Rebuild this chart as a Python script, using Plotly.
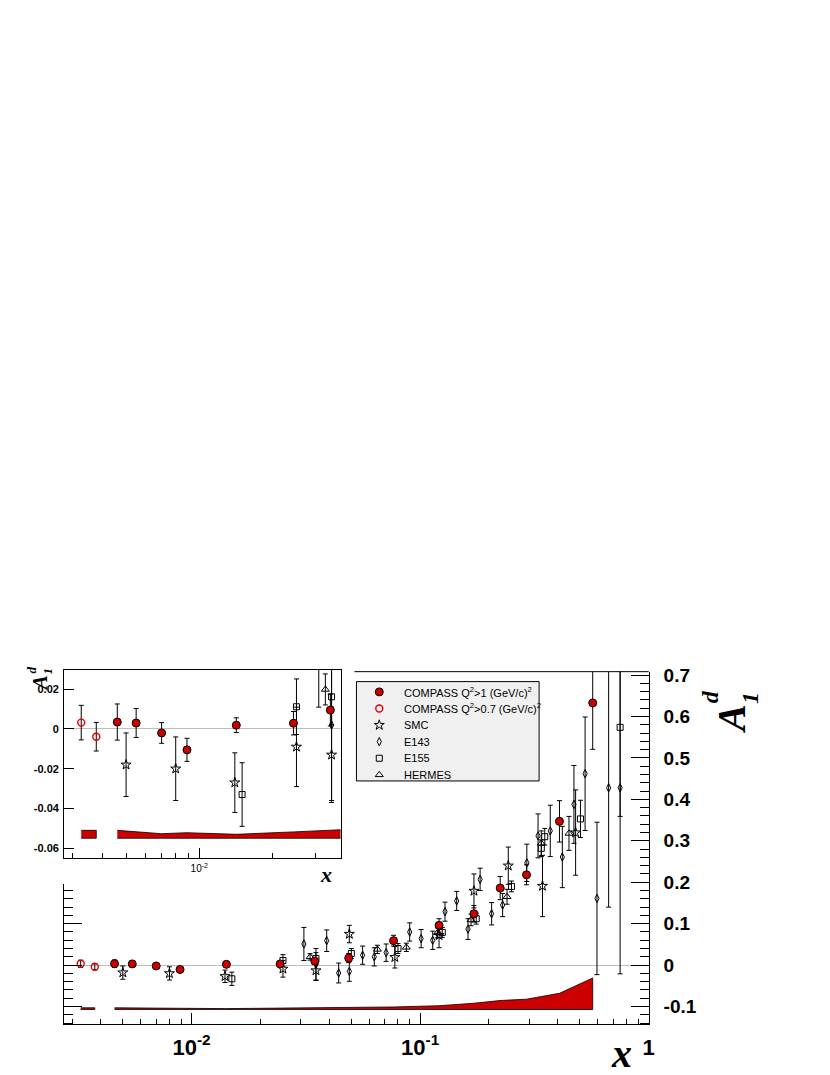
import numpy as np
import plotly.graph_objects as go

# ---- data ----
# COMPASS Q^2 > 1 (GeV/c)^2
compass_x = [0.0046, 0.0055, 0.0070, 0.0089, 0.0142, 0.0244, 0.0346, 0.0487, 0.0765, 0.121, 0.172, 0.224, 0.292, 0.407, 0.569]
compass_y = [0.0035, 0.0030, -0.0020, -0.0105, 0.0019, 0.0029, 0.0095, 0.017, 0.059, 0.096, 0.124, 0.186, 0.218, 0.347, 0.633]
compass_err = [0.0091, 0.0073, 0.0052, 0.0058, 0.0037, 0.0059, 0.0080, 0.011, 0.013, 0.016, 0.020, 0.028, 0.024, 0.050, 0.112]

# COMPASS Q^2 > 0.7 (GeV/c)^2
lowq_x = [0.00327, 0.00377]
lowq_y = [0.0032, -0.0039]
lowq_err = [0.0087, 0.0072]

smc_x = [0.0050, 0.0080, 0.0140, 0.0251, 0.035, 0.049, 0.0775, 0.121, 0.172, 0.243, 0.343, 0.479]
smc_y = [-0.018, -0.020, -0.027, -0.009, -0.013, 0.075, 0.019, 0.072, 0.179, 0.240, 0.191, 0.320]
smc_err = [0.016, 0.016, 0.015, 0.020, 0.024, 0.021, 0.026, 0.030, 0.041, 0.045, 0.074, 0.103]

e143_x = [0.031, 0.035, 0.039, 0.044, 0.049, 0.056, 0.063, 0.071, 0.090, 0.101, 0.1135, 0.1285, 0.1445,
          0.162, 0.183, 0.2055, 0.2296, 0.293, 0.328, 0.371, 0.419, 0.471, 0.527, 0.594, 0.668, 0.750]
e143_y = [0.051, 0.002, 0.059, -0.019, -0.015, 0.024, 0.020, 0.030, 0.080, 0.064, 0.060, 0.129, 0.155,
          0.087, 0.207, 0.124, 0.145, 0.247, 0.312, 0.324, 0.261, 0.388, 0.462, 0.161, 0.428, 0.428]
e143_err = [0.040, 0.038, 0.026, 0.024, 0.024, 0.022, 0.022, 0.021, 0.022, 0.022, 0.022, 0.023, 0.023,
            0.025, 0.027, 0.027, 0.028, 0.045, 0.053, 0.062, 0.074, 0.094, 0.137, 0.184, 0.288, 0.449]

e155_x = [0.015, 0.0251, 0.035, 0.050, 0.080, 0.125, 0.176, 0.251, 0.339, 0.351, 0.503, 0.750]
e155_y = [-0.033, 0.0112, 0.0162, 0.028, 0.040, 0.079, 0.112, 0.190, 0.282, 0.310, 0.353, 0.574]
e155_err = [0.016, 0.014, 0.014, 0.012, 0.012, 0.012, 0.013, 0.013, 0.020, 0.020, 0.045, 0.215]

hermes_x = [0.033, 0.065, 0.087, 0.119, 0.167, 0.240, 0.339, 0.448]
hermes_y = [0.0199, 0.038, 0.043, 0.078, 0.109, 0.165, 0.294, 0.318]
hermes_err = [0.0078, 0.010, 0.010, 0.012, 0.014, 0.018, 0.030, 0.041]

# systematic error band (COMPASS)
syst_low = [0.004, 0.004]
syst = [0.0040, 0.0032, 0.0023, 0.0028, 0.0020, 0.0032, 0.0040, 0.0042, 0.0060, 0.0090,
        0.0150, 0.0216, 0.0248, 0.0390, 0.0760]
band_base_main = -0.107
band_base_inset = -0.055

legend_names = [
    "COMPASS Q<sup>2</sup>&gt;1 (GeV/c)<sup>2</sup>",
    "COMPASS Q<sup>2</sup>&gt;0.7 (GeV/c)<sup>2</sup>",
    "SMC", "E143", "E155", "HERMES",
]

main_yticks = [-0.1, 0, 0.1, 0.2, 0.3, 0.4, 0.5, 0.6, 0.7]
main_yticktext = ["-0.1", "0", "0.1", "0.2", "0.3", "0.4", "0.5", "0.6", "0.7"]
inset_yticks = [-0.06, -0.04, -0.02, 0, 0.02]
inset_yticktext = ["-0.06", "-0.04", "-0.02", "0", "0.02"]

# ---- layout helpers (window pixel -> paper); the page body has an 8px margin ----
OFF = 8
W, H = 830 - OFF, 1075 - OFF
def px(v):
    return (v - OFF) / W
def py(v):
    return 1 - (v - OFF) / H

SANS = "Liberation Sans"
SERIF = "Liberation Serif"
RED = "#cc0000"
ERRC = "black"

mk_compass = dict(symbol="circle", size=8, color=RED, line=dict(color="black", width=1))
mk_lowq = dict(symbol="circle-open", size=7, color="#e00000", line=dict(width=1.4))
mk_smc = dict(symbol="star-open", size=7.5, color="black", line=dict(width=1))
mk_e143 = dict(symbol="diamond-tall-open", size=6, color="black", line=dict(width=1))
mk_e155 = dict(symbol="square-open", size=6, color="black", line=dict(width=1))
mk_hermes = dict(symbol="triangle-up-open", size=7, color="black", line=dict(width=1))
legend_markers = [mk_compass, mk_lowq, mk_smc, mk_e143, mk_e155, mk_hermes]

fig = go.Figure()

def add_band(xs, hs, base, xa, ya):
    bx = list(xs) + list(xs)[::-1]
    by = [base + h for h in hs] + [base] * len(xs)
    fig.add_trace(go.Scatter(
        x=bx, y=by, mode="lines", fill="toself", fillcolor=RED,
        line=dict(color="black", width=0.8),
        xaxis=xa, yaxis=ya, showlegend=False, hoverinfo="skip"
    ))

def add_series(xs, ys, errs, name, marker):
    for xa, ya in (("x", "y"), ("x2", "y2")):
        fig.add_trace(go.Scatter(
            x=xs, y=ys, mode="markers", name=name, marker=marker,
            error_y=dict(type="data", array=errs, color=ERRC, thickness=1, width=2.5),
            xaxis=xa, yaxis=ya, showlegend=False
        ))

# bands
add_band(lowq_x, syst_low, band_base_main, "x", "y")
add_band(compass_x, syst, band_base_main, "x", "y")
add_band(lowq_x, syst_low, band_base_inset, "x2", "y2")
add_band(compass_x, syst, band_base_inset, "x2", "y2")

add_series(e143_x, e143_y, e143_err, "E143", mk_e143)
add_series(e155_x, e155_y, e155_err, "E155", mk_e155)
add_series(hermes_x, hermes_y, hermes_err, "HERMES", mk_hermes)
add_series(smc_x, smc_y, smc_err, "SMC", mk_smc)
add_series(lowq_x, lowq_y, lowq_err, "COMPASS Q2>0.7", mk_lowq)
add_series(compass_x, compass_y, compass_err, "COMPASS Q2>1", mk_compass)

# empty traces carrying the tick-only frame axes
fig.add_trace(go.Scatter(x=[None], y=[None], xaxis="x", yaxis="y3", showlegend=False, hoverinfo="skip"))
fig.add_trace(go.Scatter(x=[None], y=[None], xaxis="x", yaxis="y4", showlegend=False, hoverinfo="skip"))
fig.add_trace(go.Scatter(x=[None], y=[None], xaxis="x3", yaxis="y3", showlegend=False, hoverinfo="skip"))

# legend keys, one row per entry
for i, mk in enumerate(legend_markers):
    fig.add_trace(go.Scatter(x=[0.5], y=[i], mode="markers", marker=mk,
                             xaxis="x4", yaxis="y5", showlegend=False, hoverinfo="skip"))

# main frame geometry (window pixels)
M_L, M_R, M_T, M_B = 64.5, 653.5, 669, 1024
Y0_PX, Y_SCALE = 964.4, 417.0
main_xrange = [-2.558, 0.0005]
main_yrange = [(Y0_PX - M_B) / Y_SCALE, (Y0_PX - M_T) / Y_SCALE]
LEFT_TOP = 883
I_L, I_R, I_T, I_B = 64.5, 343, 667.3, 856.7
# legend box
L_L, L_R, L_T, L_B = 359, 543, 679, 779
ROW = 16.7

x_minor_main = [k * 10.0 ** e for e in (-3, -2, -1) for k in range(2, 10)]
x_minor_main = [v for v in x_minor_main if v > 0.0028]
x_minor_inset = [k * 1e-3 for k in range(3, 10)] + [0.02, 0.03]
y_minor_main = list(np.round(np.arange(-0.14, 0.71, 0.02), 2))

TICKC = "black"
TW = 1.3

fig.update_layout(
    width=W, height=H,
    margin=dict(l=0, r=0, t=0, b=0),
    paper_bgcolor="white", plot_bgcolor="rgba(0,0,0,0)",
    font=dict(family=SANS, color="black"),
    showlegend=False,
    # main axes carrying the labels
    xaxis=dict(
        type="log", range=main_xrange, domain=[px(M_L), px(M_R)], anchor="y",
        showline=True, linecolor="black", linewidth=1, showgrid=False, zeroline=False,
        ticks="", tickmode="array", tickvals=[0.01, 0.1, 1],
        ticktext=["10<sup>-2</sup>", "10<sup>-1</sup>", "1"],
        tickfont=dict(family=SANS, size=22, color="black", weight="bold"),
        ticklabelstandoff=3,
    ),
    yaxis=dict(
        range=main_yrange, domain=[py(M_B), py(M_T)], anchor="x", side="right",
        showline=True, linecolor="black", linewidth=1, showgrid=False,
        zeroline=True, zerolinecolor="#bdbdbd", zerolinewidth=1,
        ticks="", tickmode="array", tickvals=main_yticks, ticktext=main_yticktext,
        tickfont=dict(family=SANS, size=19, color="black", weight="bold"),
        ticklabelstandoff=10,
    ),
    # tick-only copies of the main frame axes
    yaxis4=dict(
        range=main_yrange, domain=[py(M_B), py(M_T)], anchor="x", side="right",
        showline=True, linecolor="black", linewidth=1, showgrid=False, zeroline=False,
        ticks="inside", ticklen=18, tickcolor=TICKC, tickwidth=TW, showticklabels=False,
        tickmode="array", tickvals=main_yticks,
        minor=dict(tickmode="array", tickvals=y_minor_main, ticks="inside", ticklen=9,
                   tickcolor=TICKC, tickwidth=TW, showgrid=False),
    ),
    xaxis3=dict(
        type="log", range=main_xrange, domain=[px(M_L), px(M_R)], anchor="y3",
        showline=True, linecolor="black", linewidth=1, showgrid=False, zeroline=False,
        ticks="inside", ticklen=11, tickcolor=TICKC, tickwidth=TW, showticklabels=False,
        tickmode="array", tickvals=[0.01, 0.1, 1],
        minor=dict(tickmode="array", tickvals=x_minor_main, ticks="inside", ticklen=5.5,
                   tickcolor=TICKC, tickwidth=TW, showgrid=False),
    ),
    yaxis3=dict(
        range=[main_yrange[0], (Y0_PX - LEFT_TOP) / Y_SCALE],
        domain=[py(M_B), py(LEFT_TOP)], anchor="x", side="left",
        showline=True, linecolor="black", linewidth=1, showgrid=False, zeroline=False,
        ticks="inside", ticklen=18, tickcolor=TICKC, tickwidth=TW, showticklabels=False,
        tickmode="array", tickvals=[-0.1, 0, 0.1],
        minor=dict(tickmode="array", tickvals=y_minor_main, ticks="inside", ticklen=9,
                   tickcolor=TICKC, tickwidth=TW, showgrid=False),
    ),
    # inset
    xaxis2=dict(
        type="log", range=[-2.556, -1.419], domain=[px(I_L), px(I_R)], anchor="y2",
        showline=True, mirror=True, linecolor="black", linewidth=1,
        showgrid=False, zeroline=False,
        ticks="inside", ticklen=10, tickcolor=TICKC, tickwidth=TW,
        tickmode="array", tickvals=[0.01], ticktext=["10<sup>-2</sup>"],
        tickfont=dict(family=SANS, size=10, color="black"),
        ticklabelstandoff=1,
        minor=dict(tickmode="array", tickvals=x_minor_inset, ticks="inside", ticklen=5,
                   tickcolor=TICKC, tickwidth=TW, showgrid=False),
    ),
    yaxis2=dict(
        range=[-0.065, 0.0297], domain=[py(I_B), py(I_T)], anchor="x2",
        showline=True, mirror=True, linecolor="black", linewidth=1, showgrid=False,
        zeroline=True, zerolinecolor="#bdbdbd", zerolinewidth=1,
        ticks="inside", ticklen=10, tickcolor=TICKC, tickwidth=TW,
        tickmode="array", tickvals=inset_yticks, ticktext=inset_yticktext,
        tickfont=dict(family=SANS, size=11, color="black", weight="bold"),
        ticklabelstandoff=2,
    ),
    # legend key column
    xaxis4=dict(range=[0, 1], domain=[px(372), px(392)], anchor="y5", visible=False),
    yaxis5=dict(range=[len(legend_names) - 0.5, -0.5],
                domain=[py(L_T + 2 + ROW * len(legend_names)), py(L_T + 2)],
                anchor="x4", visible=False),
    shapes=[
        # top edge of the main frame, right of the inset
        dict(type="line", xref="paper", yref="paper", x0=px(357), x1=px(M_R),
             y0=py(M_T), y1=py(M_T), line=dict(color="black", width=1)),
        # legend box
        dict(type="rect", xref="paper", yref="paper", layer="below",
             x0=px(L_L), x1=px(L_R), y0=py(L_B), y1=py(L_T),
             fillcolor="#f0f0f0", line=dict(color="black", width=1)),
    ],
)

for i, name in enumerate(legend_names):
    fig.add_annotation(
        text=name, x=px(405), xref="paper", y=i, yref="y5",
        showarrow=False, xanchor="left", yanchor="middle",
        font=dict(family=SANS, size=11, color="black"),
    )

def label(text, x, y, size, angle=0):
    fig.add_annotation(
        text=text, x=px(x), y=py(y), xref="paper", yref="paper",
        showarrow=False, xanchor="center", yanchor="middle", textangle=angle,
        font=dict(family=SERIF, size=size, color="black", weight="bold", style="italic"),
    )

# main axis titles
label("x", 626, 1053, 40)
label("A", 737, 717, 40, -90)
label("d", 716, 694, 24, -90)
label("1", 756, 696, 24, -90)
# inset axis titles
label("x", 328, 873, 22)
label("A", 40, 681, 21, -90)
label("d", 32, 667, 13, -90)
label("1", 48, 668, 13, -90)

fig.write_html("out.html")
